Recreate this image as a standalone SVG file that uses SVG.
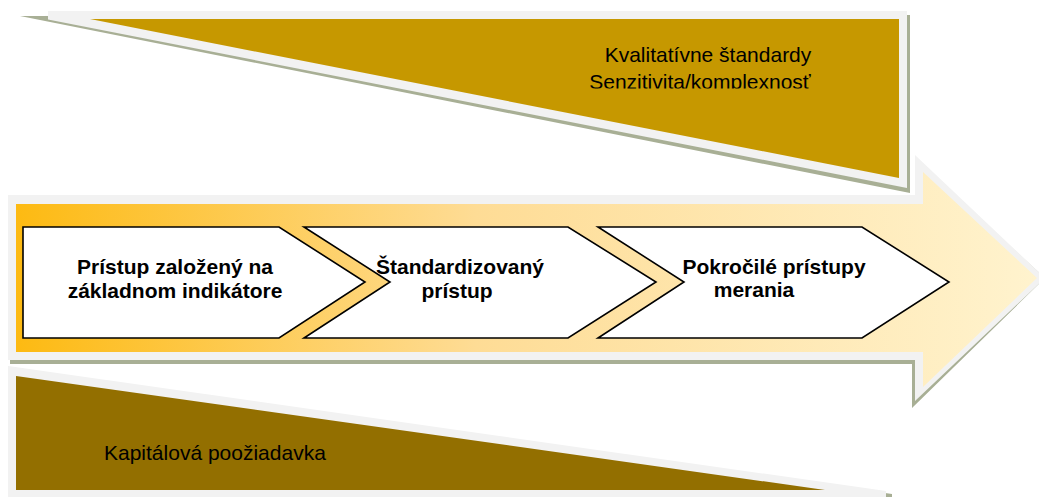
<svg xmlns="http://www.w3.org/2000/svg" width="1039" height="497" viewBox="0 0 1039 497">
<defs>
<linearGradient id="arrowGrad" x1="16" y1="0" x2="1038" y2="0" gradientUnits="userSpaceOnUse">
<stop offset="0" stop-color="#FDBA12"/>
<stop offset="0.45" stop-color="#FEDC95"/>
<stop offset="1" stop-color="#FFF3CE"/>
</linearGradient>
<clipPath id="topTextClip"><rect x="500" y="30" width="400" height="58.5"/></clipPath>
<style>
.shadow{fill:#A8AF95}
.border{fill:#F2F2F2}
.chev{fill:#FFFFFF;stroke:#000000;stroke-width:1.6;stroke-linejoin:miter}
.bold{font-family:"Liberation Sans",Arial,sans-serif;font-size:21px;font-weight:bold;fill:#000000;text-anchor:middle}
.reg{font-family:"Liberation Sans",Arial,sans-serif;font-size:21px;fill:#000000}
</style>
</defs>
<rect width="1039" height="497" fill="#FFFFFF"/>

<g id="top-wedge">
<polygon class="shadow" points="20,16 910,15 910,193"/>
<polygon class="border" points="48,11 907,11 907,188 48,19.5"/>
<polygon points="90,19 899,19 899,178" fill="#C69800"/>
<g clip-path="url(#topTextClip)">
<text class="reg" x="708" y="62" text-anchor="middle">Kvalitatívne štandardy</text>
<text class="reg" x="700" y="89" text-anchor="middle">Senzitivita/komplexnosť</text>
</g>
</g>

<g id="main-arrow">
<polygon class="shadow" points="10,200 916,200 916,160 1045,278 912,408 912,364 10,364"/>
<polygon class="border" points="8,195 915,195 915,155 1045,278 915,401 915,360 8,360"/>
<polygon points="16,204 923,204 923,172 1037,278 923,387 923,352 16,352" fill="url(#arrowGrad)"/>
</g>

<g id="bottom-wedge">
<polygon class="shadow" points="10,367 892,494 892,500 10,500"/>
<polygon class="border" points="8,366 886,491 886,500 8,500"/>
<polygon points="16,376 825,490 16,490" fill="#936F00"/>
<text class="reg" x="104" y="460">Kapitálová poožiadavka</text>
</g>

<g id="step1">
<polygon class="chev" points="23,227 279,227 365,282 279,338 23,338"/>
<text class="bold" x="175" y="274">Prístup založený na</text>
<text class="bold" x="175" y="298">základnom indikátore</text>
</g>

<g id="step2">
<polygon class="chev" points="304,227 568,227 656,282 568,338 304,338 390,282"/>
<text class="bold" x="460" y="274">Štandardizovaný</text>
<text class="bold" x="457" y="298">prístup</text>
</g>

<g id="step3">
<polygon class="chev" points="598,227 862,227 949,282 862,338 598,338 684,282"/>
<text class="bold" x="774" y="274">Pokročilé prístupy</text>
<text class="bold" x="754" y="297">merania</text>
</g>

<g id="connectors"></g>
</svg>
